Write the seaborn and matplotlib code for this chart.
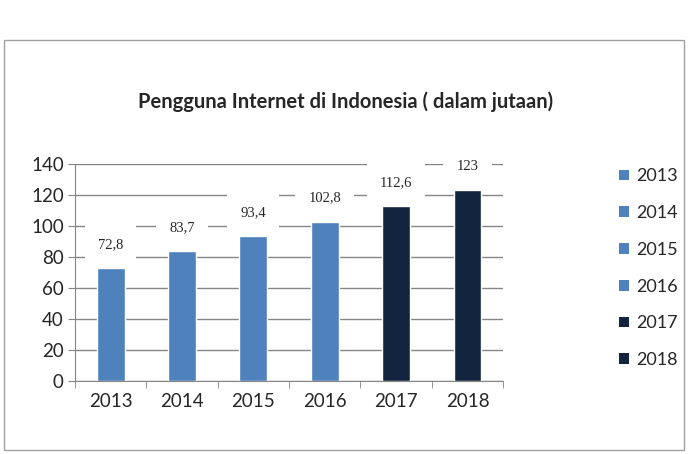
import pandas as pd
import matplotlib.pyplot as plt
import seaborn as sns
from matplotlib.patches import Patch, Rectangle

years = ["2013", "2014", "2015", "2016", "2017", "2018"]
users = [72.8, 83.7, 93.4, 102.8, 112.6, 123]
value_labels = ["72,8", "83,7", "93,4", "102,8", "112,6", "123"]
colors = ["#4F81BD", "#4F81BD", "#4F81BD", "#4F81BD", "#13243F", "#13243F"]

df = pd.DataFrame({"Tahun": years, "Pengguna": users})

sns.set_style("white")
plt.rcParams['font.family'] = ['Lato', 'DejaVu Sans']

fig = plt.figure(figsize=(6.94, 4.54), dpi=100)
ax = fig.add_axes([0.108, 0.1608, 0.617, 0.478])

sns.barplot(data=df, x="Tahun", y="Pengguna", hue="Tahun", palette=colors,
            width=0.39, legend=False, ax=ax, saturation=1)

ax.set_ylim(0, 140)
ax.set_yticks(range(0, 141, 20))
ax.set_xlim(-0.5, 5.5)
ax.yaxis.grid(True, color="#868686", linewidth=1)
ax.set_axisbelow(True)
ax.set_xlabel("")
ax.set_ylabel("")
for s in ["top", "right"]:
    ax.spines[s].set_visible(False)
for s in ["left", "bottom"]:
    ax.spines[s].set_color("#868686")
ax.tick_params(axis="y", labelsize=13.5, length=5, color="#868686", direction="out", left=True, pad=3)
ax.tick_params(axis="x", labelsize=13.5, length=0, pad=9)
ax.set_xticks([i - 0.5 for i in range(7)], minor=True)
ax.tick_params(axis="x", which="minor", length=5, color="#868686", direction="out", bottom=True)

for i, (v, lab) in enumerate(zip(users, value_labels)):
    ax.annotate(lab, (i, v), xytext=(0, 17), textcoords="offset points",
                ha="center", va="center", fontsize=10.5, family="Liberation Serif",
                bbox=dict(boxstyle="square,pad=0.9", fc="white", ec="none"))

fig.text(0.498, 0.777, "Pengguna Internet di Indonesia ( dalam jutaan)",
         ha="center", va="center", fontsize=14.5, fontweight="bold")

handles = [Patch(facecolor=c, edgecolor="none") for c in colors]
fig.legend(handles, years, loc="upper left", bbox_to_anchor=(0.868, 0.665),
           frameon=False, fontsize=13, handlelength=0.55, handleheight=0.55,
           handletextpad=0.4, labelspacing=1.15)

fig.patches.append(Rectangle((4 / 694, 4 / 454), 680 / 694, 410 / 454,
                             transform=fig.transFigure, fill=False,
                             edgecolor="#A0A0A0", linewidth=1))

fig.savefig("out.png", dpi=100)
